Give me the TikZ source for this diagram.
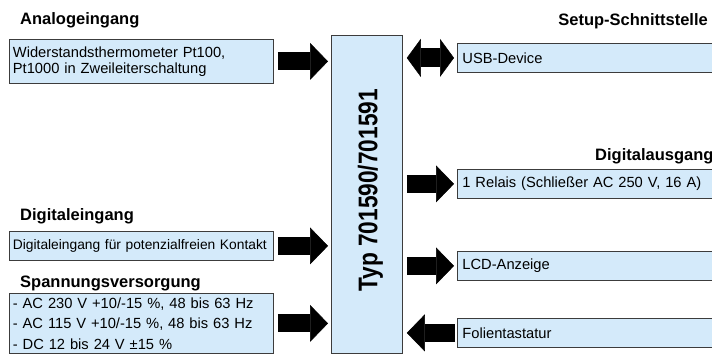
\documentclass[tikz,border=0pt]{standalone}
\usepackage{fontspec}
\setmainfont{Liberation Sans}
\usepackage{xcolor}
\usepackage{tikz}
\usetikzlibrary{arrows.meta}
\usetikzlibrary{calc}
\definecolor{boxblue}{RGB}{212,234,250}
\definecolor{boxline}{RGB}{60,60,60}
\tikzset{
  box/.style={draw=boxline, fill=boxblue, line width=0.8pt, anchor=north west,
    inner xsep=3.5pt, inner ysep=0pt, align=left, font=\fontsize{14.7}{15.7}\selectfont},
  title/.style={anchor=base west, inner sep=0pt, font=\fontsize{16.5}{18}\selectfont\bfseries},
  fat/.style={line width=18pt, shorten <=4pt, shorten >=3pt,
    -{Triangle[length=18pt,width=37pt,line width=0.5pt]}},
  fatboth/.style={line width=19pt, shorten <=4pt, shorten >=3pt,
    {Triangle[length=14pt,width=38pt,line width=0.5pt]}-{Triangle[length=14pt,width=38pt,line width=0.5pt]}}
}

\begin{document}
\begin{tikzpicture}[x=1pt,y=-1pt]
  \useasboundingbox (0,0) rectangle (712,354);
  \clip (0,0) rectangle (712,354);
  % left side
  \node[title] (tana) at (20,24) {Analogeingang};
  \node[box, minimum width=264pt, minimum height=44pt, text width=257pt] (ana) at (9,39)
    {Widerstandsthermometer Pt100,\\Pt1000 in Zweileiterschaltung};
  \node[title] (tdig) at (20,220) {Digitaleingang};
  \node[box, minimum width=264pt, minimum height=29pt, text width=257pt,
    font=\fontsize{13.8}{15}\selectfont] (dig) at (9,231)
    {Digitaleingang für potenzialfreien Kontakt};
  \node[title] (tver) at (20,287) {Spannungsversorgung};
  \node[box, minimum width=264pt, minimum height=60pt, text width=257pt,
    font=\fontsize{14.7}{20.4}\selectfont] (ver) at (9,293)
    {- AC 230 V +10/-15 \%, 48 bis 63 Hz\\- AC 115 V +10/-15 \%, 48 bis 63 Hz\\- DC 12 bis 24 V ±15 \%};
  % device
  \node[box, minimum width=71pt, minimum height=318pt] (core) at (331,35) {};
  \node[rotate=90, inner sep=0pt, font=\fontsize{27}{30}\selectfont\bfseries] (typ)
    at ($(core.center)+(3.5,-4)$) {\scalebox{0.84}[1]{Typ 701590/701591}};
  % right side
  \node[title, anchor=base east] (tset) at (708,25) {Setup-Schnittstelle};
  \node[box, minimum width=300pt, minimum height=29pt, text width=290pt] (usb) at (457,43) {USB-Device};
  \node[title] (tout) at (595,160) {Digitalausgang};
  \node[box, minimum width=300pt, minimum height=29pt, text width=290pt] (rel) at (457,169)
    {1 Relais (Schließer AC 250 V, 16 A)};
  \node[box, minimum width=300pt, minimum height=29pt, text width=290pt] (lcd) at (457,251) {LCD-Anzeige};
  \node[box, minimum width=300pt, minimum height=29pt, text width=290pt] (fol) at (457,318) {Folientastatur};
  % arrows
  \draw[fat] (ana.east) -- (ana.east -| core.west);
  \draw[fat] (dig.east) -- (dig.east -| core.west);
  \draw[fat] (ver.east) -- (ver.east -| core.west);
  \draw[fatboth] (core.east |- usb.west) -- (usb.west);
  \draw[fat] (core.east |- rel.west) -- (rel.west);
  \draw[fat] (core.east |- lcd.west) -- (lcd.west);
  \draw[fat, shorten <=2pt, shorten >=4pt] (fol.west) -- (fol.west -| core.east);
\end{tikzpicture}
\end{document}
